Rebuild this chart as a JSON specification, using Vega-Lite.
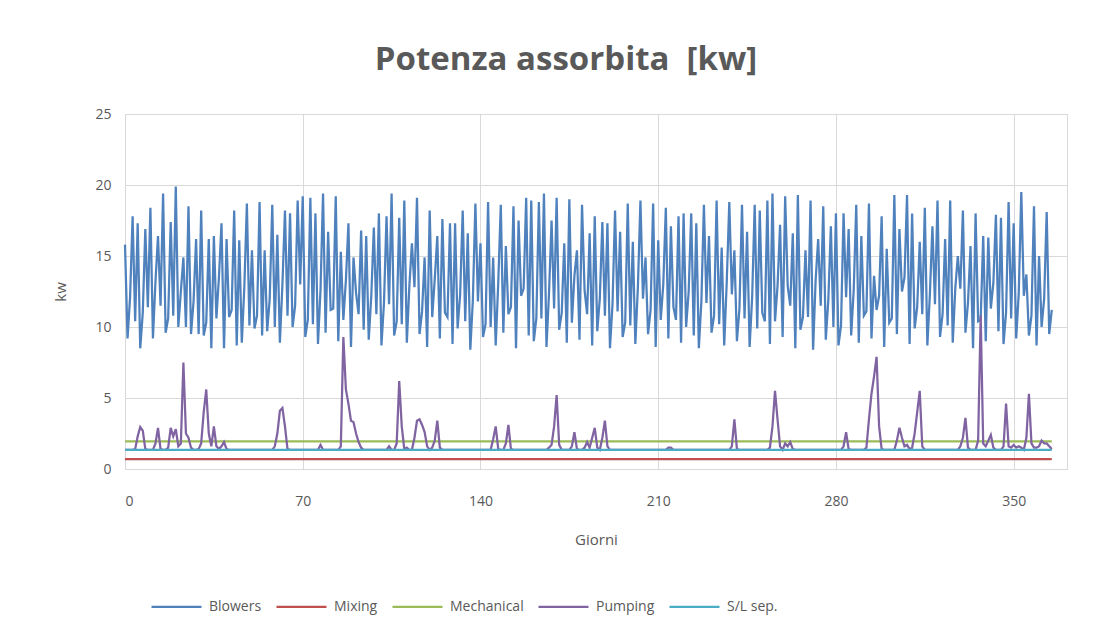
{
"$schema":"https://vega.github.io/schema/vega-lite/v6.json",
"width":942,"height":355,
"autosize":{"type":"none"},
"padding":{"left":125,"top":114,"right":38,"bottom":175},
"background":"white",
"title":{"text":"Potenza assorbita \u00a0[kw]","anchor":"middle","dx":-30,"offset":30,"fontSize":33,"fontWeight":"bold","font":"Open Sans","color":"#595959"},
"datasets":{
"costanti":[
{"d":0,"serie":"Mixing","kw":0.7},{"d":365,"serie":"Mixing","kw":0.7},
{"d":0,"serie":"Mechanical","kw":1.95},{"d":365,"serie":"Mechanical","kw":1.95},
{"d":0,"serie":"S/L sep.","kw":1.35},{"d":365,"serie":"S/L sep.","kw":1.35}
],
"giorni":[
{"d":0,"Blowers":15.8,"Pumping":1.35},{"d":1,"Blowers":9.2,"Pumping":1.35},{"d":2,"Blowers":12.1,"Pumping":1.35},{"d":3,"Blowers":17.8,"Pumping":1.35},{"d":4,"Blowers":10.4,"Pumping":1.4},
{"d":5,"Blowers":17.3,"Pumping":2.3},{"d":6,"Blowers":8.5,"Pumping":2.95},{"d":7,"Blowers":11.0,"Pumping":2.7},{"d":8,"Blowers":16.9,"Pumping":1.4},{"d":9,"Blowers":11.4,"Pumping":1.35},
{"d":10,"Blowers":18.4,"Pumping":1.35},{"d":11,"Blowers":9.2,"Pumping":1.35},{"d":12,"Blowers":13.2,"Pumping":1.8},{"d":13,"Blowers":16.4,"Pumping":2.9},{"d":14,"Blowers":11.5,"Pumping":1.4},
{"d":15,"Blowers":19.4,"Pumping":1.35},{"d":16,"Blowers":9.6,"Pumping":1.35},{"d":17,"Blowers":10.6,"Pumping":1.5},{"d":18,"Blowers":17.4,"Pumping":2.9},{"d":19,"Blowers":10.8,"Pumping":2.3},
{"d":20,"Blowers":19.9,"Pumping":2.8},{"d":21,"Blowers":10.0,"Pumping":1.6},{"d":22,"Blowers":12.5,"Pumping":1.8},{"d":23,"Blowers":14.9,"Pumping":7.5},{"d":24,"Blowers":10.0,"Pumping":2.5},
{"d":25,"Blowers":18.5,"Pumping":2.2},{"d":26,"Blowers":9.5,"Pumping":1.5},{"d":27,"Blowers":11.8,"Pumping":1.35},{"d":28,"Blowers":16.2,"Pumping":1.35},{"d":29,"Blowers":9.5,"Pumping":1.4},
{"d":30,"Blowers":18.2,"Pumping":1.8},{"d":31,"Blowers":9.4,"Pumping":4.0},{"d":32,"Blowers":10.3,"Pumping":5.6},{"d":33,"Blowers":16.2,"Pumping":2.5},{"d":34,"Blowers":8.5,"Pumping":1.6},
{"d":35,"Blowers":16.4,"Pumping":3.0},{"d":36,"Blowers":10.6,"Pumping":1.6},{"d":37,"Blowers":13.5,"Pumping":1.4},{"d":38,"Blowers":17.3,"Pumping":1.6},{"d":39,"Blowers":8.5,"Pumping":1.9},
{"d":40,"Blowers":16.2,"Pumping":1.4},{"d":41,"Blowers":10.7,"Pumping":1.35},{"d":42,"Blowers":11.2,"Pumping":1.35},{"d":43,"Blowers":18.2,"Pumping":1.35},{"d":44,"Blowers":8.7,"Pumping":1.35},
{"d":45,"Blowers":16.1,"Pumping":1.35},{"d":46,"Blowers":8.9,"Pumping":1.35},{"d":47,"Blowers":12.8,"Pumping":1.35},{"d":48,"Blowers":18.7,"Pumping":1.35},{"d":49,"Blowers":10.1,"Pumping":1.35},
{"d":50,"Blowers":15.4,"Pumping":1.35},{"d":51,"Blowers":9.9,"Pumping":1.35},{"d":52,"Blowers":10.8,"Pumping":1.35},{"d":53,"Blowers":18.8,"Pumping":1.35},{"d":54,"Blowers":9.4,"Pumping":1.35},
{"d":55,"Blowers":15.4,"Pumping":1.35},{"d":56,"Blowers":9.7,"Pumping":1.35},{"d":57,"Blowers":12.0,"Pumping":1.35},{"d":58,"Blowers":18.6,"Pumping":1.35},{"d":59,"Blowers":10.0,"Pumping":1.6},
{"d":60,"Blowers":16.5,"Pumping":2.5},{"d":61,"Blowers":8.9,"Pumping":4.1},{"d":62,"Blowers":13.0,"Pumping":4.3},{"d":63,"Blowers":18.2,"Pumping":3.0},{"d":64,"Blowers":10.8,"Pumping":1.4},
{"d":65,"Blowers":18.0,"Pumping":1.35},{"d":66,"Blowers":10.0,"Pumping":1.35},{"d":67,"Blowers":11.5,"Pumping":1.35},{"d":68,"Blowers":18.9,"Pumping":1.35},{"d":69,"Blowers":13.0,"Pumping":1.35},
{"d":70,"Blowers":19.2,"Pumping":1.35},{"d":71,"Blowers":9.3,"Pumping":1.35},{"d":72,"Blowers":10.5,"Pumping":1.35},{"d":73,"Blowers":19.1,"Pumping":1.35},{"d":74,"Blowers":10.2,"Pumping":1.35},
{"d":75,"Blowers":18.0,"Pumping":1.35},{"d":76,"Blowers":8.8,"Pumping":1.35},{"d":77,"Blowers":12.6,"Pumping":1.7},{"d":78,"Blowers":19.4,"Pumping":1.35},{"d":79,"Blowers":9.6,"Pumping":1.35},
{"d":80,"Blowers":16.7,"Pumping":1.35},{"d":81,"Blowers":11.2,"Pumping":1.35},{"d":82,"Blowers":11.3,"Pumping":1.35},{"d":83,"Blowers":19.2,"Pumping":1.35},{"d":84,"Blowers":9.0,"Pumping":1.35},
{"d":85,"Blowers":15.3,"Pumping":1.6},{"d":86,"Blowers":10.5,"Pumping":9.3},{"d":87,"Blowers":13.3,"Pumping":5.6},{"d":88,"Blowers":17.3,"Pumping":4.6},{"d":89,"Blowers":8.6,"Pumping":3.4},
{"d":90,"Blowers":14.9,"Pumping":3.3},{"d":91,"Blowers":12.4,"Pumping":2.5},{"d":92,"Blowers":10.9,"Pumping":1.9},{"d":93,"Blowers":16.8,"Pumping":1.5},{"d":94,"Blowers":9.8,"Pumping":1.35},
{"d":95,"Blowers":16.4,"Pumping":1.35},{"d":96,"Blowers":9.1,"Pumping":1.35},{"d":97,"Blowers":12.2,"Pumping":1.35},{"d":98,"Blowers":17.0,"Pumping":1.35},{"d":99,"Blowers":10.9,"Pumping":1.35},
{"d":100,"Blowers":18.0,"Pumping":1.35},{"d":101,"Blowers":8.7,"Pumping":1.35},{"d":102,"Blowers":11.7,"Pumping":1.35},{"d":103,"Blowers":17.8,"Pumping":1.35},{"d":104,"Blowers":11.6,"Pumping":1.6},
{"d":105,"Blowers":19.4,"Pumping":1.35},{"d":106,"Blowers":9.4,"Pumping":1.35},{"d":107,"Blowers":10.4,"Pumping":1.8},{"d":108,"Blowers":17.7,"Pumping":6.2},{"d":109,"Blowers":10.2,"Pumping":3.0},
{"d":110,"Blowers":18.9,"Pumping":1.4},{"d":111,"Blowers":8.9,"Pumping":1.5},{"d":112,"Blowers":12.9,"Pumping":1.35},{"d":113,"Blowers":15.9,"Pumping":1.35},{"d":114,"Blowers":12.8,"Pumping":2.2},
{"d":115,"Blowers":19.1,"Pumping":3.4},{"d":116,"Blowers":9.5,"Pumping":3.5},{"d":117,"Blowers":11.1,"Pumping":3.1},{"d":118,"Blowers":14.9,"Pumping":2.6},{"d":119,"Blowers":8.6,"Pumping":1.6},
{"d":120,"Blowers":18.2,"Pumping":1.35},{"d":121,"Blowers":10.7,"Pumping":1.5},{"d":122,"Blowers":13.4,"Pumping":2.0},{"d":123,"Blowers":16.4,"Pumping":3.4},{"d":124,"Blowers":9.2,"Pumping":1.5},
{"d":125,"Blowers":17.6,"Pumping":1.35},{"d":126,"Blowers":11.0,"Pumping":1.35},{"d":127,"Blowers":10.7,"Pumping":1.35},{"d":128,"Blowers":17.3,"Pumping":1.35},{"d":129,"Blowers":8.8,"Pumping":1.35},
{"d":130,"Blowers":17.3,"Pumping":1.35},{"d":131,"Blowers":9.9,"Pumping":1.35},{"d":132,"Blowers":12.3,"Pumping":1.35},{"d":133,"Blowers":18.2,"Pumping":1.35},{"d":134,"Blowers":10.4,"Pumping":1.35},
{"d":135,"Blowers":16.6,"Pumping":1.35},{"d":136,"Blowers":8.4,"Pumping":1.35},{"d":137,"Blowers":11.9,"Pumping":1.35},{"d":138,"Blowers":18.7,"Pumping":1.35},{"d":139,"Blowers":11.8,"Pumping":1.35},
{"d":140,"Blowers":15.9,"Pumping":1.35},{"d":141,"Blowers":9.3,"Pumping":1.35},{"d":142,"Blowers":10.2,"Pumping":1.35},{"d":143,"Blowers":18.8,"Pumping":1.35},{"d":144,"Blowers":10.0,"Pumping":1.35},
{"d":145,"Blowers":14.9,"Pumping":2.1},{"d":146,"Blowers":8.7,"Pumping":3.0},{"d":147,"Blowers":13.1,"Pumping":1.4},{"d":148,"Blowers":18.6,"Pumping":1.35},{"d":149,"Blowers":9.6,"Pumping":1.35},
{"d":150,"Blowers":15.7,"Pumping":1.8},{"d":151,"Blowers":10.9,"Pumping":3.1},{"d":152,"Blowers":11.4,"Pumping":1.4},{"d":153,"Blowers":18.5,"Pumping":1.35},{"d":154,"Blowers":8.5,"Pumping":1.35},
{"d":155,"Blowers":17.5,"Pumping":1.35},{"d":156,"Blowers":12.2,"Pumping":1.35},{"d":157,"Blowers":12.7,"Pumping":1.35},{"d":158,"Blowers":19.1,"Pumping":1.35},{"d":159,"Blowers":9.4,"Pumping":1.35},
{"d":160,"Blowers":18.9,"Pumping":1.35},{"d":161,"Blowers":9.0,"Pumping":1.35},{"d":162,"Blowers":10.6,"Pumping":1.35},{"d":163,"Blowers":18.8,"Pumping":1.35},{"d":164,"Blowers":10.6,"Pumping":1.35},
{"d":165,"Blowers":19.4,"Pumping":1.35},{"d":166,"Blowers":8.6,"Pumping":1.35},{"d":167,"Blowers":12.4,"Pumping":1.5},{"d":168,"Blowers":17.5,"Pumping":1.7},{"d":169,"Blowers":11.3,"Pumping":3.0},
{"d":170,"Blowers":19.1,"Pumping":5.2},{"d":171,"Blowers":9.8,"Pumping":1.7},{"d":172,"Blowers":11.0,"Pumping":1.35},{"d":173,"Blowers":15.9,"Pumping":1.35},{"d":174,"Blowers":8.9,"Pumping":1.35},
{"d":175,"Blowers":19.0,"Pumping":1.35},{"d":176,"Blowers":10.3,"Pumping":1.6},{"d":177,"Blowers":13.6,"Pumping":2.6},{"d":178,"Blowers":15.4,"Pumping":1.4},{"d":179,"Blowers":9.1,"Pumping":1.35},
{"d":180,"Blowers":18.6,"Pumping":1.35},{"d":181,"Blowers":12.6,"Pumping":1.5},{"d":182,"Blowers":10.9,"Pumping":1.9},{"d":183,"Blowers":16.6,"Pumping":1.5},{"d":184,"Blowers":8.7,"Pumping":2.2},
{"d":185,"Blowers":17.8,"Pumping":2.9},{"d":186,"Blowers":9.7,"Pumping":1.5},{"d":187,"Blowers":12.0,"Pumping":1.35},{"d":188,"Blowers":17.4,"Pumping":2.2},{"d":189,"Blowers":10.8,"Pumping":3.4},
{"d":190,"Blowers":17.3,"Pumping":1.6},{"d":191,"Blowers":8.5,"Pumping":1.35},{"d":192,"Blowers":11.6,"Pumping":1.35},{"d":193,"Blowers":18.2,"Pumping":1.35},{"d":194,"Blowers":11.1,"Pumping":1.35},
{"d":195,"Blowers":16.7,"Pumping":1.35},{"d":196,"Blowers":9.3,"Pumping":1.35},{"d":197,"Blowers":10.3,"Pumping":1.35},{"d":198,"Blowers":18.7,"Pumping":1.35},{"d":199,"Blowers":10.1,"Pumping":1.35},
{"d":200,"Blowers":16.0,"Pumping":1.35},{"d":201,"Blowers":8.8,"Pumping":1.35},{"d":202,"Blowers":12.8,"Pumping":1.35},{"d":203,"Blowers":18.9,"Pumping":1.35},{"d":204,"Blowers":12.0,"Pumping":1.35},
{"d":205,"Blowers":14.9,"Pumping":1.35},{"d":206,"Blowers":9.5,"Pumping":1.35},{"d":207,"Blowers":11.2,"Pumping":1.35},{"d":208,"Blowers":18.7,"Pumping":1.35},{"d":209,"Blowers":8.6,"Pumping":1.35},
{"d":210,"Blowers":16.1,"Pumping":1.35},{"d":211,"Blowers":10.5,"Pumping":1.35},{"d":212,"Blowers":13.0,"Pumping":1.35},{"d":213,"Blowers":18.4,"Pumping":1.35},{"d":214,"Blowers":9.2,"Pumping":1.5},
{"d":215,"Blowers":17.1,"Pumping":1.5},{"d":216,"Blowers":11.4,"Pumping":1.35},{"d":217,"Blowers":10.5,"Pumping":1.35},{"d":218,"Blowers":17.8,"Pumping":1.35},{"d":219,"Blowers":8.9,"Pumping":1.35},
{"d":220,"Blowers":18.0,"Pumping":1.35},{"d":221,"Blowers":10.0,"Pumping":1.35},{"d":222,"Blowers":12.5,"Pumping":1.35},{"d":223,"Blowers":18.0,"Pumping":1.35},{"d":224,"Blowers":9.4,"Pumping":1.35},
{"d":225,"Blowers":17.3,"Pumping":1.35},{"d":226,"Blowers":8.5,"Pumping":1.35},{"d":227,"Blowers":11.8,"Pumping":1.35},{"d":228,"Blowers":18.6,"Pumping":1.35},{"d":229,"Blowers":11.7,"Pumping":1.35},
{"d":230,"Blowers":16.4,"Pumping":1.35},{"d":231,"Blowers":9.6,"Pumping":1.35},{"d":232,"Blowers":10.8,"Pumping":1.35},{"d":233,"Blowers":18.9,"Pumping":1.35},{"d":234,"Blowers":10.2,"Pumping":1.35},
{"d":235,"Blowers":15.6,"Pumping":1.35},{"d":236,"Blowers":8.7,"Pumping":1.35},{"d":237,"Blowers":13.2,"Pumping":1.35},{"d":238,"Blowers":18.8,"Pumping":1.35},{"d":239,"Blowers":12.3,"Pumping":1.6},
{"d":240,"Blowers":15.4,"Pumping":3.5},{"d":241,"Blowers":9.0,"Pumping":1.4},{"d":242,"Blowers":11.3,"Pumping":1.35},{"d":243,"Blowers":18.6,"Pumping":1.35},{"d":244,"Blowers":10.6,"Pumping":1.35},
{"d":245,"Blowers":16.7,"Pumping":1.35},{"d":246,"Blowers":8.6,"Pumping":1.35},{"d":247,"Blowers":12.1,"Pumping":1.35},{"d":248,"Blowers":18.6,"Pumping":1.35},{"d":249,"Blowers":9.9,"Pumping":1.35},
{"d":250,"Blowers":18.2,"Pumping":1.35},{"d":251,"Blowers":11.0,"Pumping":1.35},{"d":252,"Blowers":10.4,"Pumping":1.35},{"d":253,"Blowers":18.9,"Pumping":1.35},{"d":254,"Blowers":8.8,"Pumping":1.5},
{"d":255,"Blowers":19.4,"Pumping":3.0},{"d":256,"Blowers":10.4,"Pumping":5.5},{"d":257,"Blowers":12.9,"Pumping":3.5},{"d":258,"Blowers":17.2,"Pumping":1.6},{"d":259,"Blowers":9.3,"Pumping":1.35},
{"d":260,"Blowers":19.2,"Pumping":1.8},{"d":261,"Blowers":12.9,"Pumping":1.6},{"d":262,"Blowers":11.5,"Pumping":1.9},{"d":263,"Blowers":16.6,"Pumping":1.4},{"d":264,"Blowers":8.5,"Pumping":1.35},
{"d":265,"Blowers":19.3,"Pumping":1.35},{"d":266,"Blowers":9.8,"Pumping":1.35},{"d":267,"Blowers":10.7,"Pumping":1.35},{"d":268,"Blowers":15.4,"Pumping":1.35},{"d":269,"Blowers":10.7,"Pumping":1.35},
{"d":270,"Blowers":18.9,"Pumping":1.35},{"d":271,"Blowers":8.4,"Pumping":1.35},{"d":272,"Blowers":13.3,"Pumping":1.35},{"d":273,"Blowers":16.2,"Pumping":1.35},{"d":274,"Blowers":11.5,"Pumping":1.35},
{"d":275,"Blowers":18.5,"Pumping":1.35},{"d":276,"Blowers":9.1,"Pumping":1.35},{"d":277,"Blowers":11.9,"Pumping":1.35},{"d":278,"Blowers":17.1,"Pumping":1.35},{"d":279,"Blowers":10.0,"Pumping":1.35},
{"d":280,"Blowers":18.0,"Pumping":1.35},{"d":281,"Blowers":8.7,"Pumping":1.35},{"d":282,"Blowers":10.1,"Pumping":1.35},{"d":283,"Blowers":18.0,"Pumping":1.6},{"d":284,"Blowers":12.1,"Pumping":2.6},
{"d":285,"Blowers":16.9,"Pumping":1.4},{"d":286,"Blowers":9.4,"Pumping":1.35},{"d":287,"Blowers":12.6,"Pumping":1.35},{"d":288,"Blowers":18.6,"Pumping":1.35},{"d":289,"Blowers":8.9,"Pumping":1.35},
{"d":290,"Blowers":16.4,"Pumping":1.35},{"d":291,"Blowers":10.8,"Pumping":1.35},{"d":292,"Blowers":11.1,"Pumping":1.5},{"d":293,"Blowers":18.7,"Pumping":3.5},{"d":294,"Blowers":9.2,"Pumping":5.3},
{"d":295,"Blowers":13.6,"Pumping":6.5},{"d":296,"Blowers":11.2,"Pumping":7.9},{"d":297,"Blowers":12.2,"Pumping":3.0},{"d":298,"Blowers":17.8,"Pumping":1.4},{"d":299,"Blowers":8.6,"Pumping":1.35},
{"d":300,"Blowers":15.5,"Pumping":1.35},{"d":301,"Blowers":10.3,"Pumping":1.35},{"d":302,"Blowers":10.6,"Pumping":1.35},{"d":303,"Blowers":19.3,"Pumping":1.35},{"d":304,"Blowers":9.5,"Pumping":2.0},
{"d":305,"Blowers":16.9,"Pumping":2.9},{"d":306,"Blowers":12.5,"Pumping":2.2},{"d":307,"Blowers":13.5,"Pumping":1.6},{"d":308,"Blowers":19.3,"Pumping":1.7},{"d":309,"Blowers":8.8,"Pumping":1.4},
{"d":310,"Blowers":18.0,"Pumping":1.5},{"d":311,"Blowers":9.9,"Pumping":2.5},{"d":312,"Blowers":11.4,"Pumping":4.0},{"d":313,"Blowers":16.0,"Pumping":5.5},{"d":314,"Blowers":10.9,"Pumping":1.6},
{"d":315,"Blowers":18.4,"Pumping":1.35},{"d":316,"Blowers":8.7,"Pumping":1.35},{"d":317,"Blowers":12.3,"Pumping":1.35},{"d":318,"Blowers":17.1,"Pumping":1.35},{"d":319,"Blowers":11.6,"Pumping":1.35},
{"d":320,"Blowers":18.9,"Pumping":1.35},{"d":321,"Blowers":9.3,"Pumping":1.35},{"d":322,"Blowers":10.9,"Pumping":1.35},{"d":323,"Blowers":16.2,"Pumping":1.35},{"d":324,"Blowers":10.1,"Pumping":1.35},
{"d":325,"Blowers":18.9,"Pumping":1.35},{"d":326,"Blowers":8.9,"Pumping":1.35},{"d":327,"Blowers":12.7,"Pumping":1.35},{"d":328,"Blowers":15.0,"Pumping":1.35},{"d":329,"Blowers":12.7,"Pumping":1.6},
{"d":330,"Blowers":18.2,"Pumping":2.2},{"d":331,"Blowers":9.6,"Pumping":3.6},{"d":332,"Blowers":11.7,"Pumping":1.5},{"d":333,"Blowers":15.7,"Pumping":1.35},{"d":334,"Blowers":8.5,"Pumping":1.35},
{"d":335,"Blowers":18.0,"Pumping":1.35},{"d":336,"Blowers":10.4,"Pumping":2.0},{"d":337,"Blowers":10.5,"Pumping":10.8},{"d":338,"Blowers":16.4,"Pumping":1.8},{"d":339,"Blowers":9.0,"Pumping":1.6},
{"d":340,"Blowers":16.3,"Pumping":2.0},{"d":341,"Blowers":11.3,"Pumping":2.4},{"d":342,"Blowers":13.1,"Pumping":1.5},{"d":343,"Blowers":17.9,"Pumping":1.35},{"d":344,"Blowers":9.7,"Pumping":1.35},
{"d":345,"Blowers":17.7,"Pumping":1.35},{"d":346,"Blowers":8.8,"Pumping":1.6},{"d":347,"Blowers":11.0,"Pumping":4.6},{"d":348,"Blowers":18.8,"Pumping":1.6},{"d":349,"Blowers":10.6,"Pumping":1.5},
{"d":350,"Blowers":17.3,"Pumping":1.7},{"d":351,"Blowers":9.2,"Pumping":1.5},{"d":352,"Blowers":12.4,"Pumping":1.6},{"d":353,"Blowers":19.5,"Pumping":1.5},{"d":354,"Blowers":12.2,"Pumping":1.35},
{"d":355,"Blowers":13.7,"Pumping":2.2},{"d":356,"Blowers":9.4,"Pumping":5.3},{"d":357,"Blowers":10.8,"Pumping":1.8},{"d":358,"Blowers":18.5,"Pumping":1.5},{"d":359,"Blowers":8.7,"Pumping":1.5},
{"d":360,"Blowers":15.0,"Pumping":1.6},{"d":361,"Blowers":10.0,"Pumping":2.0},{"d":362,"Blowers":12.0,"Pumping":1.8},{"d":363,"Blowers":18.1,"Pumping":1.8},{"d":364,"Blowers":9.5,"Pumping":1.6},
{"d":365,"Blowers":11.2,"Pumping":1.4}
]
},
"encoding":{
"x":{"field":"d","type":"quantitative","scale":{"domain":[0,371],"nice":false,"zero":false},"axis":{"values":[0,70,140,210,280,350],"title":"Giorni"}},
"y":{"field":"kw","type":"quantitative","scale":{"domain":[0,25],"nice":false},"axis":{"values":[0,5,10,15,20,25],"title":"kw"}},
"color":{"field":"serie","type":"nominal",
"scale":{"domain":["Blowers","Mixing","Mechanical","Pumping","S/L sep."],"range":["#4f81bd","#c0504d","#9bbb59","#8064a2","#4bacc6"]},
"legend":{"title":null,"orient":"none","direction":"horizontal","legendX":25,"legendY":466,"symbolType":"stroke","symbolSize":2500,"symbolStrokeWidth":2.25,"labelFontSize":14,"labelColor":"#595959","labelFont":"Open Sans","columnPadding":10,"labelOffset":6,"padding":0}}
},
"layer":[
{"data":{"name":"giorni"},"transform":[{"fold":["Blowers"],"as":["serie","kw"]}],"mark":{"type":"line","strokeWidth":2.25}},
{"data":{"name":"costanti"},"transform":[{"filter":{"field":"serie","oneOf":["Mixing","Mechanical"]}}],"mark":{"type":"line","strokeWidth":2.25}},
{"data":{"name":"giorni"},"transform":[{"fold":["Pumping"],"as":["serie","kw"]}],"mark":{"type":"line","strokeWidth":2.25}},
{"data":{"name":"costanti"},"transform":[{"filter":{"field":"serie","equal":"S/L sep."}}],"mark":{"type":"line","strokeWidth":2.25}}
],
"config":{
"view":{"stroke":"#d9d9d9"},
"axis":{"labelFont":"Open Sans","labelFontSize":14,"labelColor":"#595959","titleFont":"Open Sans","titleFontSize":15,"titleFontWeight":"normal","titleColor":"#595959","gridColor":"#d9d9d9","gridWidth":1,"domain":false,"ticks":false},
"axisX":{"labelPadding":25,"titlePadding":24},
"axisY":{"labelPadding":14,"titlePadding":26}
}
}
